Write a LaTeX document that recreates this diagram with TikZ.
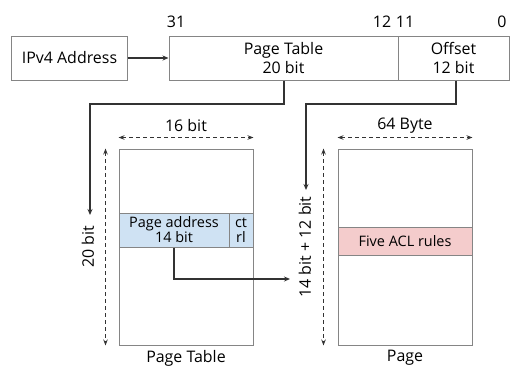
\documentclass[tikz,border=0pt]{standalone}
\usepackage{fontspec}
\setmainfont{Open Sans}
\usetikzlibrary{arrows.meta,calc}
\definecolor{boxline}{HTML}{858585}
\definecolor{wire}{HTML}{333333}
\definecolor{bandblue}{HTML}{CFE2F3}
\definecolor{bandred}{HTML}{F4CCCC}
\tikzset{
  field/.style={draw=boxline, line width=1bp, fill=white, minimum height=44bp, inner sep=0pt, align=center, font=\fontsize{16}{19}\selectfont},
  mem/.style={draw=boxline, line width=1bp, fill=white, minimum width=134bp, minimum height=196bp, inner sep=0pt},
  band/.style={draw=boxline, line width=1bp, inner sep=0pt, align=center, font=\fontsize{14.5}{15}\selectfont},
  lbl/.style={inner sep=0pt, font=\fontsize{16}{18}\selectfont},
  arr/.style={draw=wire, line width=1.1bp, -{Stealth[length=6bp,width=5bp]}},
  dim/.style={draw=wire, line width=1bp, dashed, dash pattern=on 4bp off 3bp, {Stealth[length=6bp,width=4.5bp]}-{Stealth[length=6bp,width=4.5bp]}}
}
\begin{document}
\begin{tikzpicture}[x=1bp,y=-1bp]
\useasboundingbox (0,0) rectangle (510,367);

% address fields
\node[field, minimum width=115bp] (ipv4) at (69.5,58) {IPv4 Address};
\node[field, minimum width=229bp] (ptf) at (283.5,58) {Page Table\\20 bit};
\node[field, minimum width=111bp] (off) at (453.5,58) {Offset\\12 bit};

% bit positions
\node[lbl] (b31) at (176,22) {31};
\node[lbl] (b12) at (382,22) {12};
\node[lbl] (b11) at (405,22) {11};
\node[lbl] (b0) at (502,22) {0};

\draw[arr] (ipv4.east) -- (ptf.west);

% page table
\node[mem] (ptab) at (186,247) {};
\node[band, fill=bandblue, minimum width=110bp, minimum height=34bp] (paddr) at (174,230) {Page address\\14 bit};
\node[band, fill=bandblue, minimum width=24bp, minimum height=34bp] (ctrl) at (241,230) {ct\\rl};
\node[lbl] (ptabname) at (186,358) {Page Table};

% page
\node[mem] (page) at (405,247) {};
\node[band, fill=bandred, minimum width=134bp, minimum height=28bp] (acl) at (405,241) {Five ACL rules};
\node[lbl] (pagename) at (405,358) {Page};

% dimensions
\node[lbl] (w16) at (186,126) {16 bit};
\coordinate (w16a) at ($(ptab.north west)+(0,-11)$);
\coordinate (w16b) at ($(ptab.north east)+(0,-11)$);
\draw[dim] (w16a) -- (w16b);
\coordinate (h20a) at ($(ptab.north west)+(-13,0)$);
\coordinate (h20b) at ($(ptab.south west)+(-13,0)$);
\draw[dim] (h20a) -- (h20b);
\node[lbl, rotate=90] (h20) at (88,247) {20 bit};

\node[lbl] (w64) at (405,126) {64 Byte};
\coordinate (w64a) at ($(page.north west)+(0,-11)$);
\coordinate (w64b) at ($(page.north east)+(0,-11)$);
\draw[dim] (w64a) -- (w64b);
\coordinate (h26a) at ($(page.north west)+(-14,0)$);
\coordinate (h26b) at ($(page.south west)+(-14,0)$);
\draw[dim] (h26a) -- (h26b);
\node[lbl, rotate=90] (h26) at (305,247) {14 bit + 12 bit};

% index paths
\coordinate (ptx) at (284,0);
\coordinate (ptin) at (90,215);
\draw[arr] (ptf.south -| ptx) -- (284,104) -| (ptin);

\coordinate (offx) at (456,0);
\coordinate (pgin) at (306,190);
\draw[arr] (off.south -| offx) -- (456,104) -| (pgin);

\coordinate (pax) at (174,0);
\coordinate (pain) at (290,279);
\draw[arr] (paddr.south -| pax) |- (pain);
\end{tikzpicture}
\end{document}
